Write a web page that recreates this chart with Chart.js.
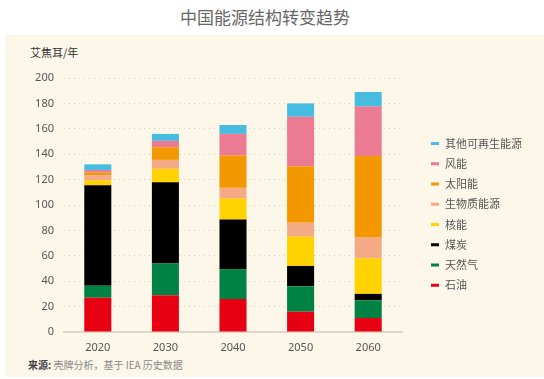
<!DOCTYPE html>
<html><head><meta charset="utf-8">
<script src="https://cdn.jsdelivr.net/npm/chart.js@4/dist/chart.umd.min.js"></script>
<style>
html,body{margin:0;padding:0;background:#fff;width:544px;height:379px;overflow:hidden;font-family:"Noto Sans CJK SC","Noto Sans",sans-serif;}
#title{position:absolute;left:0;top:5px;width:530px;text-align:center;font-size:17px;color:#666;line-height:24px;}
#panel{position:absolute;left:5px;top:35px;width:539px;height:342px;background:#fdf7ea;}
#unit{position:absolute;left:30px;top:44px;font-size:11px;color:#333;}
#src{position:absolute;left:28px;top:357px;font-size:10px;color:#888;}
#src b{color:#444;}
canvas{position:absolute;left:0;top:0;}
</style></head>
<body>
<div id="title">中国能源结构转变趋势</div>
<div id="panel"></div>
<div id="unit">艾焦耳/年</div>
<div id="src"><b>来源:</b> 壳牌分析，基于 IEA 历史数据</div>
<canvas id="c" width="544" height="379"></canvas>
<script>
const years = ['2020','2030','2040','2050','2060'];
const oil     = [27, 29, 26, 16, 11];
const gas     = [9.5, 25, 23.5, 20, 14];
const coal    = [79, 64, 39, 16, 5];
const nuclear = [4, 10.5, 16.5, 23, 28];
const biomass = [4, 7, 8.5, 11, 16.5];
const solar   = [2, 10, 25.5, 44.5, 64];
const wind    = [2, 5, 17, 39, 39];
const otherRe = [4.5, 5.5, 7, 10.5, 11.5];
const seriesNames = ['石油','天然气','煤炭','核能','生物质能源','太阳能','风能','其他可再生能源'];
const seriesColors = ['#e60012','#008245','#000000','#ffd200','#f4aa84','#f39800','#ec7a93','#45bce0'];
const seriesData = [oil, gas, coal, nuclear, biomass, solar, wind, otherRe];
const yTicks = [0,20,40,60,80,100,120,140,160,180,200];

const datasets = seriesData.map((d,i)=>({
  label: seriesNames[i], data: d, backgroundColor: seriesColors[i],
  borderWidth: 0, categoryPercentage: 1.0, barPercentage: 0.4
}));

const legendPlugin = {
  id:'customLegend',
  afterDraw(chart){
    const ctx = chart.ctx;
    const n = chart.data.datasets.length;
    ctx.save();
    ctx.font = '11px "Noto Sans CJK SC", sans-serif';
    ctx.textBaseline = 'middle';
    for(let k=0;k<n;k++){
      const ds = chart.data.datasets[n-1-k];
      const y = 143.5 + k*20.25;
      ctx.fillStyle = ds.backgroundColor;
      ctx.fillRect(431, y-1.5, 8, 3);
      ctx.fillStyle = '#555';
      ctx.fillText(ds.label, 445, y);
    }
    ctx.restore();
  }
};

new Chart(document.getElementById('c'), {
  type:'bar',
  data:{labels: years, datasets},
  options:{
    responsive:false, animation:false,
    layout:{padding:{left:0,right:142,top:78,bottom:0}},
    plugins:{legend:{display:false}, tooltip:{enabled:false}},
    scales:{
      x:{stacked:true,
        grid:{display:false, drawTicks:false},
        border:{display:true,color:'#ddd7ca',width:2},
        ticks:{color:'#555',font:{size:11,family:'"Noto Sans","Noto Sans CJK SC",sans-serif'},padding:9},
        afterFit(s){s.height=47;}
      },
      y:{stacked:true,min:0,max:200,
        afterBuildTicks(s){s.ticks = yTicks.map(v=>({value:v}));},
        grid:{color:(c)=>c.tick && c.tick.value===0?'rgba(0,0,0,0)':'#d6d0c4', lineWidth:1, drawTicks:false, tickBorderDash:[1,4]},
        border:{display:false, dash:[1,4]},
        ticks:{color:'#555',font:{size:11,family:'"Noto Sans","Noto Sans CJK SC",sans-serif'},padding:10},
        afterFit(s){s.width=64;}
      }
    }
  },
  plugins:[legendPlugin]
});
</script>
</body></html>
